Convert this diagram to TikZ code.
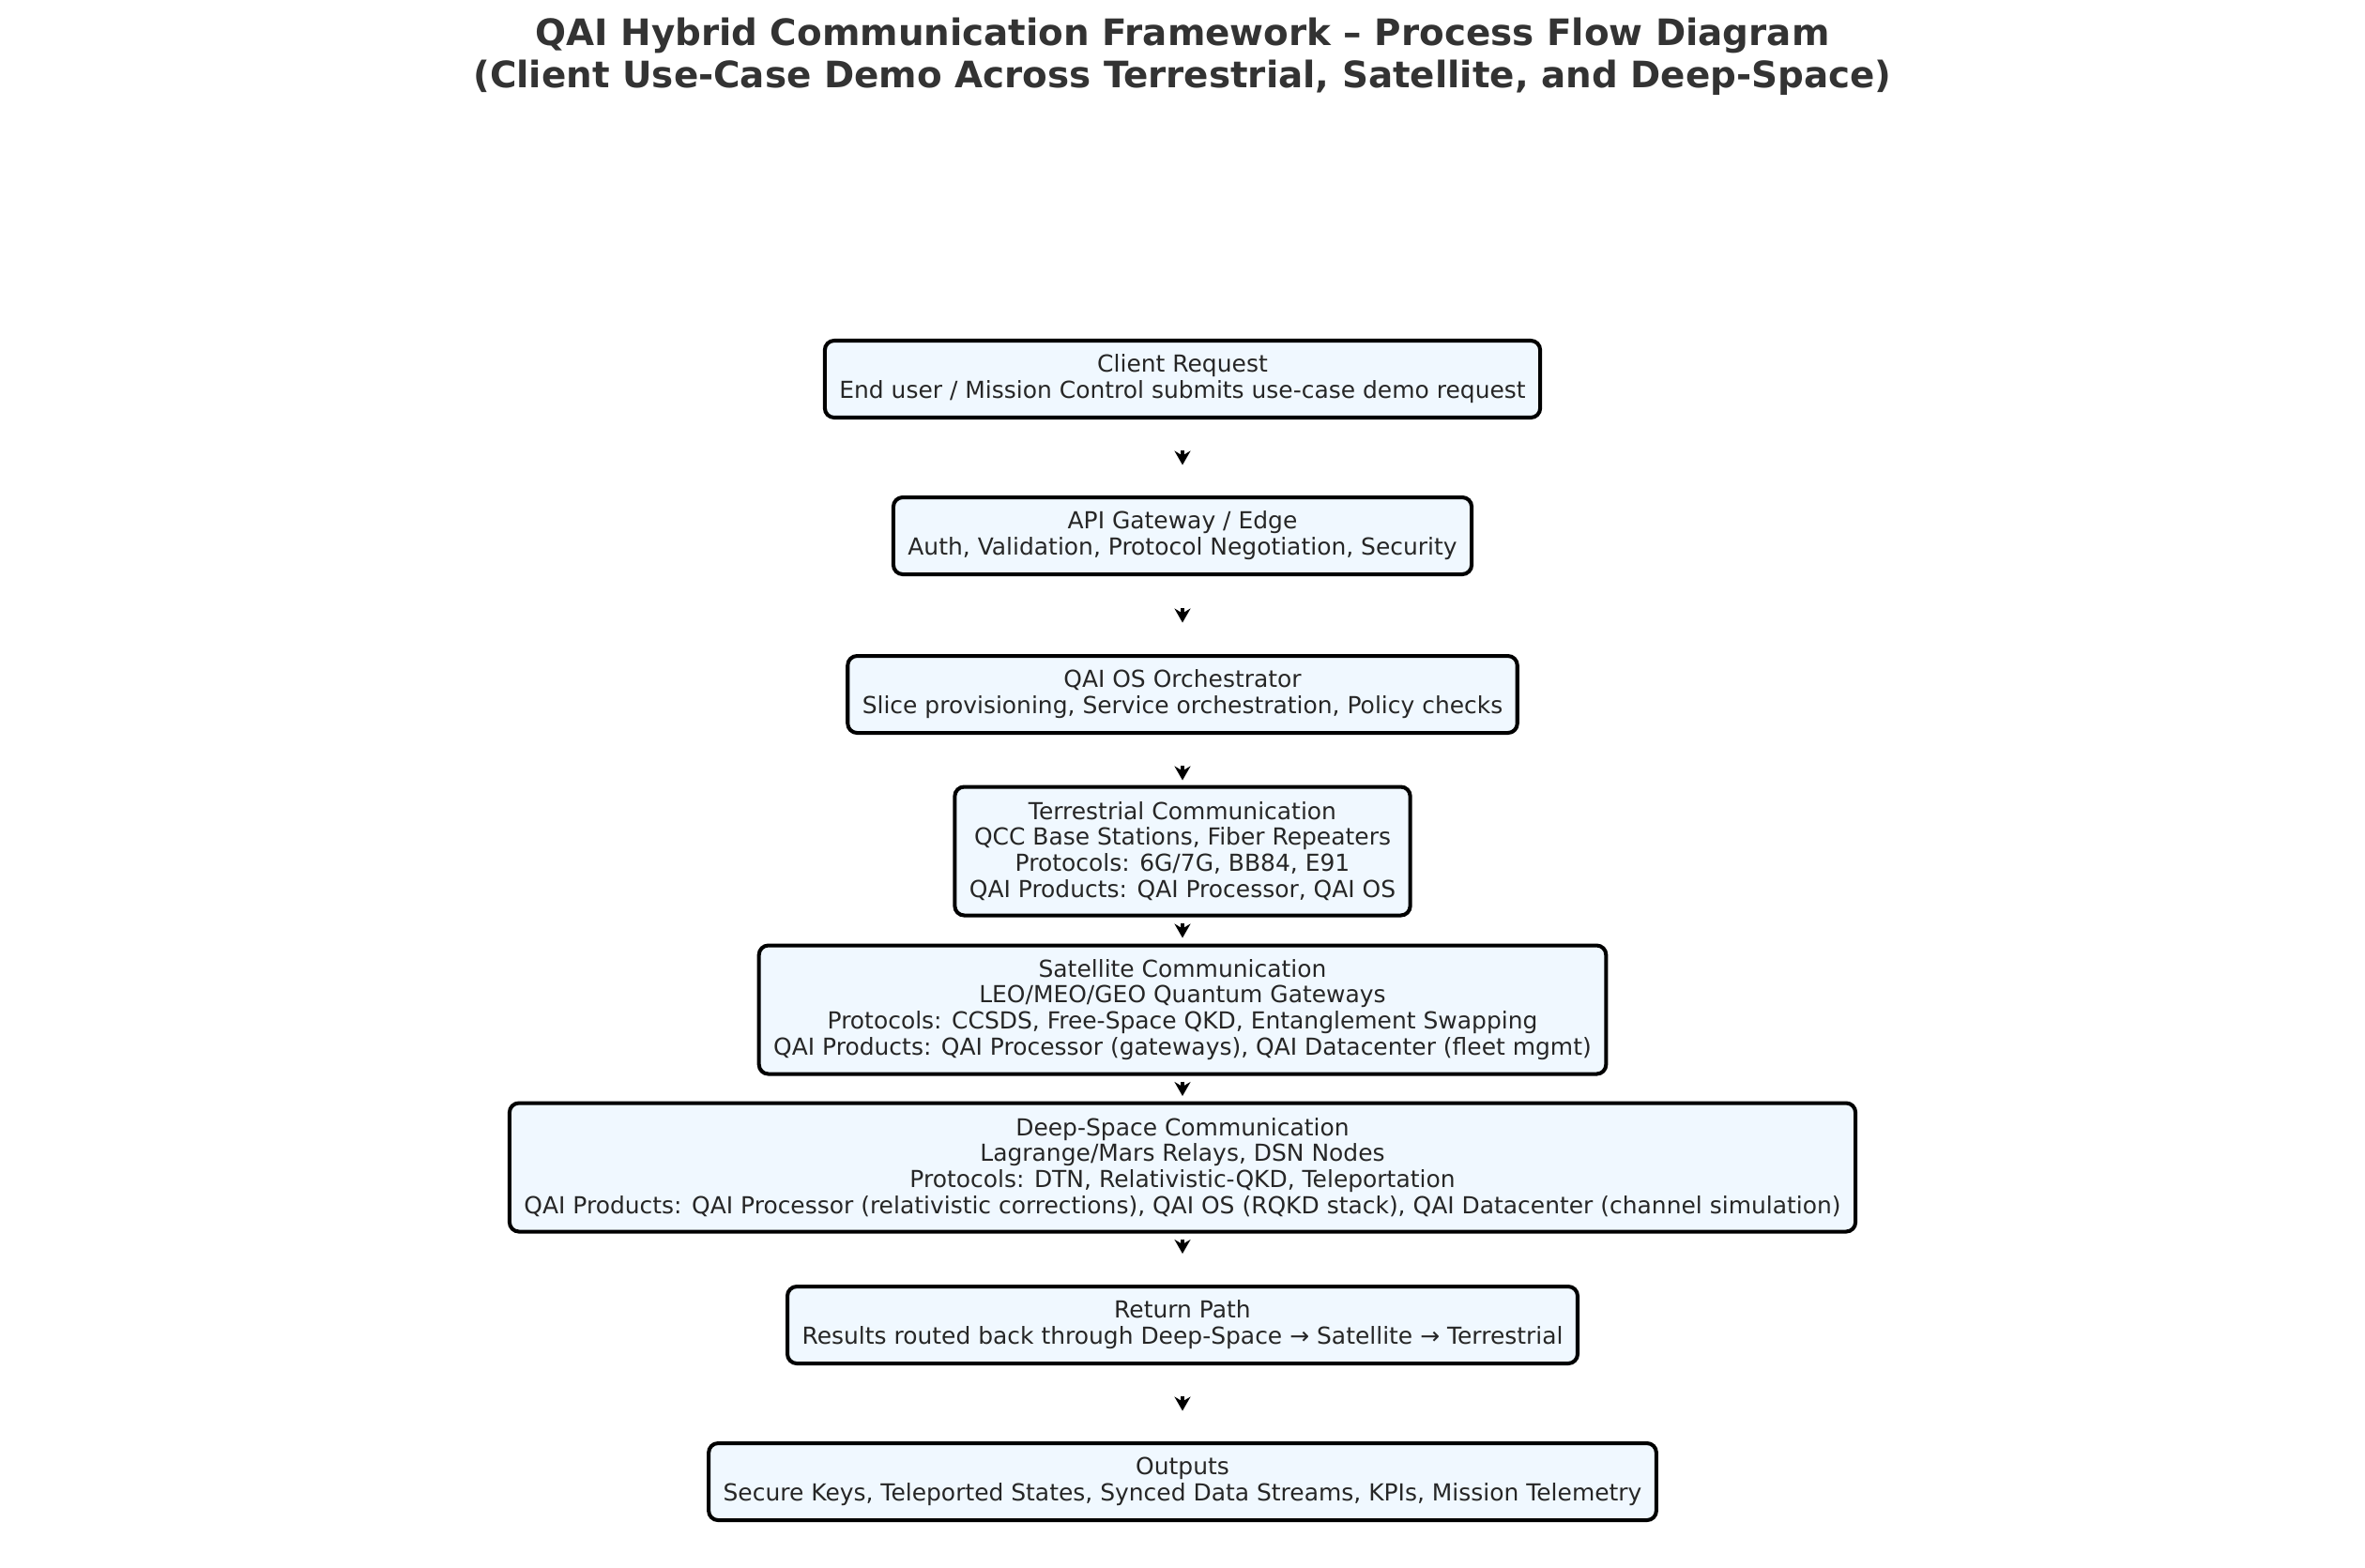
\documentclass[tikz,border=0pt]{standalone}
\usepackage{fontspec}
\setmainfont{DejaVu Sans}
\usetikzlibrary{arrows.meta,calc}
\definecolor{boxfill}{HTML}{F0F8FF}
\definecolor{txt}{HTML}{262626}
\definecolor{ttl}{HTML}{333333}
\begin{document}
\begin{tikzpicture}[
  flowbox/.style={draw=black, line width=1.15pt, fill=boxfill, rounded corners=0.1cm, align=center, text=txt,
    font=\fontsize{7.1}{7.94}\selectfont, inner xsep=0.155cm, inner ysep=0.1cm},
  twoline/.style={flowbox, minimum height=0.82cm},
  fourline/.style={flowbox, minimum height=1.37cm},
  flowarrow/.style={-{Stealth[length=0.15cm,width=0.17cm,inset=0.05cm]}, line width=1.1pt, black}
]
\fill[white] (0,0) rectangle (25.2,-16.7);
\useasboundingbox (0,0) rectangle (25.2,-16.7);
\node[font=\fontsize{11.05}{12.8}\selectfont\bfseries, text=ttl, align=center] (title) at (12.6,-0.605)
  {QAI Hybrid Communication Framework – Process Flow Diagram\\(Client Use-Case Demo Across Terrestrial, Satellite, and Deep-Space)};

\node[twoline] (b1) at (12.6,-4.04) {Client Request\\End user / Mission Control submits use-case demo request};
\node[twoline] (b2) at (12.6,-5.71) {API Gateway / Edge\\Auth, Validation, Protocol Negotiation, Security};
\node[twoline] (b3) at (12.6,-7.40) {QAI OS Orchestrator\\Slice provisioning, Service orchestration, Policy checks};
\node[fourline] (b4) at (12.6,-9.07) {Terrestrial Communication\\QCC Base Stations, Fiber Repeaters\\Protocols: 6G/7G, BB84, E91\\QAI Products: QAI Processor, QAI OS};
\node[fourline] (b5) at (12.6,-10.76) {Satellite Communication\\LEO/MEO/GEO Quantum Gateways\\Protocols: CCSDS, Free-Space QKD, Entanglement Swapping\\QAI Products: QAI Processor (gateways), QAI Datacenter (fleet mgmt)};
\node[fourline] (b6) at (12.6,-12.44) {Deep-Space Communication\\Lagrange/Mars Relays, DSN Nodes\\Protocols: DTN, Relativistic-QKD, Teleportation\\QAI Products: QAI Processor (relativistic corrections), QAI OS (RQKD stack), QAI Datacenter (channel simulation)};
\node[twoline] (b7) at (12.6,-14.12) {Return Path\\Results routed back through Deep-Space → Satellite → Terrestrial};
\node[twoline] (b8) at (12.6,-15.79) {Outputs\\Secure Keys, Teleported States, Synced Data Streams, KPIs, Mission Telemetry};

\foreach \a/\b in {b1/b2,b2/b3,b3/b4,b4/b5,b5/b6,b6/b7,b7/b8}{
  \draw[flowarrow] ($(\a)!0.5!(\b)+(0,0.075)$) -- ($(\a)!0.5!(\b)-(0,0.08)$);
}
\end{tikzpicture}
\end{document}
